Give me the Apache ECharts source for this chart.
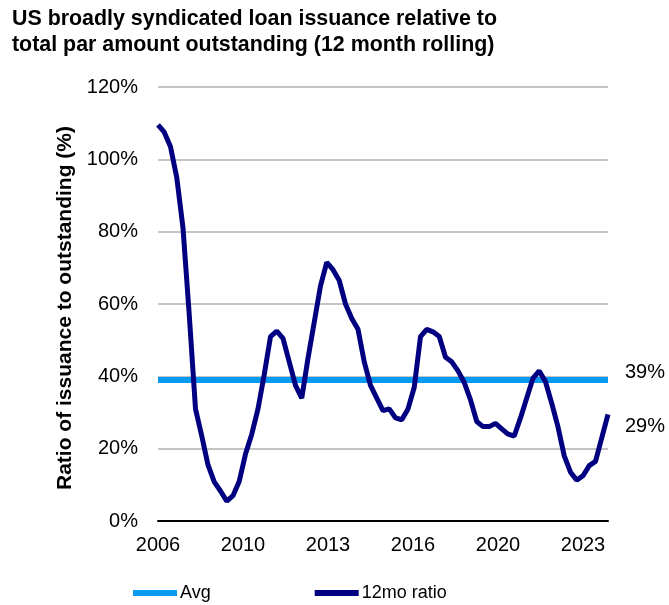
<!DOCTYPE html>
<html>
<head>
<meta charset="utf-8">
<script src="https://cdn.jsdelivr.net/npm/echarts@6/dist/echarts.min.js"></script>
<style>
html,body{margin:0;padding:0;background:#fff;}
#c{width:669px;height:605px;}
</style>
</head>
<body>
<div id="c"></div>
<script>
// Quarterly 12-month rolling ratio (%), from 2006 onward
var ratioValues = [109.5,107.5,103.5,95,81,57,31,23.5,15.5,10.8,8.3,5.5,7,11,18.5,24,31,40.5,51,52.5,50.5,44,37.5,34,45,55,65,71.5,69.5,66.5,60,56,53,44,37.5,34,30.5,31,28.5,28,31,37,51,53,52.3,51,45.3,44,41.5,38.3,33.5,27.5,26.1,26.1,27,25.5,24,23.5,28.5,34,39.5,41.5,38.5,32.5,26,18,13.5,11.3,12.5,15.3,16.5,23,29.5];
var avgValue = 39;
var tickLabels = ['2006','2010','2013','2016','2020','2023'];
var tickStep = 13.6; // quarters between labelled ticks
var seriesNames = ['Avg','12mo ratio'];

var lastIdx = ratioValues.length - 1;
var ratioData = ratioValues.map(function(v,i){return [i,v];});
var avgData = [[0,avgValue],[lastIdx,avgValue]];

var chart = echarts.init(document.getElementById('c'));
var font = 'Liberation Sans, Arial, sans-serif';
chart.setOption({
  animation:false,
  backgroundColor:'#ffffff',
  title:{
    text:'US broadly syndicated loan issuance relative to\ntotal par amount outstanding (12 month rolling)',
    left:12, top:6, padding:0,
    textStyle:{fontFamily:font,fontSize:21.4,fontWeight:'bold',color:'#000',lineHeight:26}
  },
  grid:{left:158,right:61,top:87,bottom:84},
  legend:{
    data:seriesNames,
    left:133, top:584, padding:0,
    icon:'rect', itemWidth:44, itemHeight:6, itemGap:104,
    textStyle:{fontFamily:font,fontSize:18,color:'#000',padding:[0,0,0,-2]}
  },
  xAxis:{
    type:'value', min:0, max:lastIdx, interval:tickStep,
    axisLine:{show:true,lineStyle:{color:'#000',width:2}},
    axisTick:{show:false},
    splitLine:{show:false},
    axisLabel:{
      fontFamily:font,fontSize:20,color:'#000',margin:14,
      showMaxLabel:false,
      formatter:function(v){
        var k=Math.round(v/tickStep);
        if(Math.abs(v-k*tickStep)>0.01) return '';
        return tickLabels[k]||'';
      }
    }
  },
  yAxis:{
    type:'value', min:0, max:120, interval:20,
    name:'Ratio of issuance to outstanding (%)',
    nameLocation:'middle', nameGap:81,
    nameTextStyle:{fontFamily:font,fontSize:21,fontWeight:'bold',color:'#000',padding:[0,0,0,-8]},
    axisLine:{show:false}, axisTick:{show:false},
    splitLine:{lineStyle:{color:'#b0b0b0',width:1.5}},
    axisLabel:{fontFamily:font,fontSize:20,color:'#000',margin:20,formatter:'{value}%'}
  },
  series:[
    {
      name:seriesNames[0], type:'line', data:avgData, symbol:'none',
      lineStyle:{color:'#0a9af2',width:6}, itemStyle:{color:'#0a9af2'},
      z:2,
      endLabel:{show:true,formatter:function(){return Math.round(avgValue)+'%';},
        fontFamily:font,fontSize:20,color:'#000',distance:17,offset:[0,-7]}
    },
    {
      name:seriesNames[1], type:'line', data:ratioData, symbol:'none',
      lineStyle:{color:'#000080',width:5}, itemStyle:{color:'#000080'},
      z:3,
      endLabel:{show:true,formatter:function(p){return Math.floor(p.value[1])+'%';},
        fontFamily:font,fontSize:20,color:'#000',distance:17,offset:[0,12]}
    }
  ]
});
</script>
</body>
</html>
